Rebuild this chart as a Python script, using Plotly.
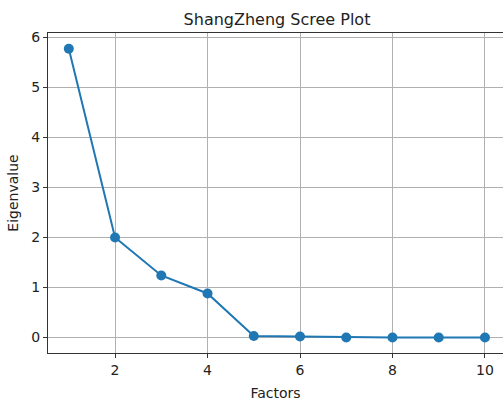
import plotly.graph_objects as go

factors = [1, 2, 3, 4, 5, 6, 7, 8, 9, 10]
eigenvalues = [5.77, 2.00, 1.24, 0.88, 0.03, 0.02, 0.00, 0.00, 0.00, 0.00]
x_ticks = [2, 4, 6, 8, 10]
y_ticks = [0, 1, 2, 3, 4, 5, 6]

fig = go.Figure()
fig.add_trace(go.Scatter(
    x=factors, y=eigenvalues, mode="lines+markers",
    line=dict(color="#1f77b4", width=2),
    marker=dict(color="#1f77b4", size=10),
    showlegend=False,
))

font = "DejaVu Sans"
fig.update_layout(
    width=503, height=401,
    margin=dict(l=48, r=0, t=33, b=48),
    paper_bgcolor="white", plot_bgcolor="white",
    title=dict(text="ShangZheng Scree Plot", x=277 / 503, xanchor="center",
               y=1 - 19 / 401, yanchor="middle",
               font=dict(family=font, size=16, color="#222")),
    font=dict(family=font, size=14, color="#222"),
)
fig.update_xaxes(
    range=[0.55, 10.39], tickvals=x_ticks, ticks="outside", ticklen=4, tickcolor="#333",
    showgrid=True, gridcolor="#b0b0b0", gridwidth=1, zeroline=False,
    showline=True, linecolor="#333", linewidth=1, mirror=True,
    title=dict(text="Factors", font=dict(family=font, size=14, color="#222"), standoff=11),
)
fig.update_yaxes(
    range=[-0.31, 6.086], tickvals=y_ticks, ticks="outside", ticklen=4, tickcolor="#333",
    showgrid=True, gridcolor="#b0b0b0", gridwidth=1, zeroline=False,
    showline=True, linecolor="#333", linewidth=1, mirror=True,
    title=dict(text="Eigenvalue", font=dict(family=font, size=14, color="#222"), standoff=9),
)
fig.write_html(
    "out.html",
    config={"displayModeBar": False},
    post_script="document.body.style.margin='0';document.body.style.overflow='hidden';",
)
